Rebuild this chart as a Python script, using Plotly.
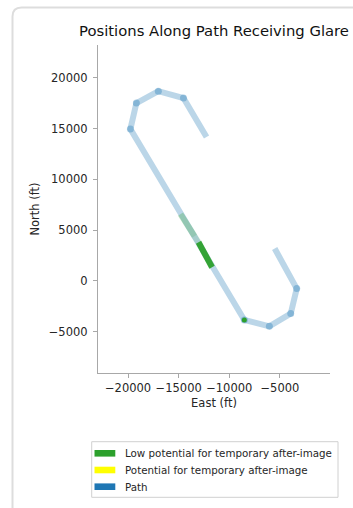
import plotly.graph_objects as go

# Path vertices (ft)
path_east = [-5515, -3337, -3930, -6040, -8515, -19770, -19180, -17010, -14525, -12250]
path_north = [3190, -750, -3212, -4463, -3842, 14950, 17500, 18680, 18000, 14160]

# Glare segments (low potential for temporary after-image)
glare_faint_east = [-14822, -13436]
glare_faint_north = [6571, 4404]
glare_mid_east = [-13436, -13040]
glare_mid_north = [4404, 3813]
glare_solid_east = [-13040, -11703]
glare_solid_north = [3813, 1350]
glare_point_east = [-8515]
glare_point_north = [-3842]

legend_labels = ["Low potential for temporary after-image",
                 "Potential for temporary after-image",
                 "Path"]
legend_colors = ["#2ca02c", "#ffff00", "#1f77b4"]

xticks = [-20000, -15000, -10000, -5000]
yticks = [-5000, 0, 5000, 10000, 15000, 20000]

def fmt(v):
    return ("\u2212" + str(abs(v))) if v < 0 else str(v)

W, H = 353, 508
L, R, T, B = 98, 23, 45, 135
pw, ph = W - L - R, H - T - B

def px_x(p):
    return (p - L) / pw
def px_y(p):
    return (H - B - p) / ph

fig = go.Figure()

# path line
fig.add_trace(go.Scatter(
    x=path_east, y=path_north, mode="lines",
    line=dict(color="rgba(31,119,180,0.3)", width=6),
    showlegend=False, hoverinfo="skip"))
# vertex markers (interior vertices)
fig.add_trace(go.Scatter(
    x=path_east[1:-1], y=path_north[1:-1], mode="markers",
    marker=dict(color="rgba(31,119,180,0.35)", size=7),
    showlegend=False, hoverinfo="skip"))

# glare segments
fig.add_trace(go.Scatter(
    x=glare_faint_east, y=glare_faint_north, mode="lines",
    line=dict(color="rgba(44,160,44,0.28)", width=6),
    showlegend=False, hoverinfo="skip"))
fig.add_trace(go.Scatter(
    x=glare_mid_east, y=glare_mid_north, mode="lines",
    line=dict(color="rgba(44,160,44,0.15)", width=6),
    showlegend=False, hoverinfo="skip"))
fig.add_trace(go.Scatter(
    x=glare_solid_east, y=glare_solid_north, mode="lines",
    line=dict(color="rgba(44,160,44,0.95)", width=6),
    showlegend=False, hoverinfo="skip"))
fig.add_trace(go.Scatter(
    x=glare_point_east, y=glare_point_north, mode="markers",
    marker=dict(color="#2ca02c", size=5),
    showlegend=False, hoverinfo="skip"))

axis_common = dict(
    showgrid=False, zeroline=False, showline=True,
    linecolor="#a8a8a8", linewidth=1.2,
    ticks="outside", ticklen=4, tickcolor="#a8a8a8", tickwidth=1,
    tickfont=dict(family="DejaVu Sans", size=11.5, color="#262626"),
    mirror=False, automargin=False,
)

fig.update_layout(
    width=W, height=H, autosize=False,
    margin=dict(l=L, r=R, t=T, b=B, autoexpand=False),
    paper_bgcolor="white", plot_bgcolor="white",
    font=dict(family="DejaVu Sans", color="#262626"),
    title=dict(text="Positions Along Path Receiving Glare",
               x=0.5, xref="paper", xanchor="center",
               y=1 - 31 / H, yref="container", yanchor="middle",
               font=dict(size=14.8, color="#111111")),
    xaxis=dict(range=[-22970, -50], tickvals=xticks,
               ticktext=[fmt(v) for v in xticks],
               ticklabelstandoff=0,
               title=dict(text="East (ft)", standoff=5,
                          font=dict(size=11.5)),
               **axis_common),
    yaxis=dict(range=[-9060, 23220], tickvals=yticks,
               ticktext=[fmt(v) for v in yticks],
               ticklabelstandoff=3,
               title=dict(text="North (ft)", standoff=6,
                          font=dict(size=11.5)),
               **axis_common),
    showlegend=False,
)

# card border (rounded)
x0, y0, x1, y1, r = 12.5, 7.5, 360, 520, 9
fig.add_shape(type="path", xref="paper", yref="paper",
              path=(f"M {px_x(x0)},{px_y(y1)} L {px_x(x0)},{px_y(y0 + r)} "
                    f"Q {px_x(x0)},{px_y(y0)} {px_x(x0 + r)},{px_y(y0)} "
                    f"L {px_x(x1)},{px_y(y0)}"),
              line=dict(color="#dddddd", width=2), layer="below")

# legend box
fig.add_shape(type="rect", xref="paper", yref="paper",
              x0=px_x(91.7), x1=px_x(338), y0=px_y(497.3), y1=px_y(441.7),
              line=dict(color="#d0d0d0", width=1), fillcolor="white")
for i, (lab, col) in enumerate(zip(legend_labels, legend_colors)):
    cy = 453.3 + i * 16.7
    fig.add_shape(type="rect", xref="paper", yref="paper",
                  x0=px_x(94.5), x1=px_x(115.3), y0=px_y(cy + 3.3), y1=px_y(cy - 3.3),
                  line=dict(width=0), fillcolor=col)
    fig.add_annotation(text=lab, xref="paper", yref="paper",
                       x=px_x(123), y=px_y(cy), xanchor="left", yanchor="middle",
                       showarrow=False,
                       font=dict(family="DejaVu Sans", size=10.3, color="#262626"))

fig.write_html("out.html",
               config={"displayModeBar": False},
               post_script="document.body.style.margin='0';"
                           "document.body.style.overflow='hidden';")
